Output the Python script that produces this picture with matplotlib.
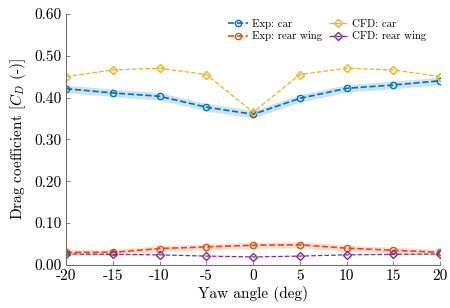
import numpy as np
import matplotlib.pyplot as plt

plt.rcParams['font.family'] = 'cmr10'
plt.rcParams['mathtext.fontset'] = 'cm'
plt.rcParams['axes.formatter.use_mathtext'] = True

yaw = [-20, -15, -10, -5, 0, 5, 10, 15, 20]
exp_car = [0.421, 0.411, 0.403, 0.377, 0.360, 0.398, 0.422, 0.430, 0.440]
cfd_car = [0.450, 0.466, 0.470, 0.455, 0.365, 0.455, 0.470, 0.466, 0.450]
exp_wing = [0.030, 0.030, 0.039, 0.043, 0.047, 0.048, 0.040, 0.035, 0.030]
cfd_wing = [0.026, 0.025, 0.024, 0.021, 0.019, 0.021, 0.024, 0.025, 0.026]
car_err = 0.009
wing_err = 0.007

blue = '#0072BD'
orange = '#D95319'
yellow = '#EDB120'
purple = '#7E2F8E'

fig = plt.figure(figsize=(4.5, 3.08), dpi=100)
ax = fig.add_axes([0.147, 0.14, 0.831, 0.815])

x = np.array(yaw)
ax.fill_between(x, np.array(exp_car) - car_err, np.array(exp_car) + car_err,
                color=blue, alpha=0.2, lw=0)
ax.fill_between(x, np.array(exp_wing) - wing_err, np.array(exp_wing) + wing_err,
                color=orange, alpha=0.2, lw=0)

ax.plot(x, exp_car, '--o', color=blue, mfc='none', ms=4.5, lw=1.2, label='Exp: car')
ax.plot(x, exp_wing, '--o', color=orange, mfc='none', ms=4.5, lw=1.2, label='Exp: rear wing')
ax.plot(x, cfd_car, '--D', color=yellow, mfc='none', ms=4, lw=0.9, label='CFD: car')
ax.plot(x, cfd_wing, '--D', color=purple, mfc='none', ms=4, lw=0.9, label='CFD: rear wing')

ax.set_xlim(-20, 20)
ax.set_ylim(0, 0.6)
ax.set_xticks(yaw)
ax.set_xticklabels([str(v) for v in yaw])
yt = np.arange(0, 0.61, 0.1)
ax.set_yticks(yt)
ax.set_yticklabels(['%.2f' % v for v in yt])
ax.tick_params(direction='in', length=3, color='#707070', labelsize=11, width=0.6)
for s in ['top', 'right']:
    ax.spines[s].set_visible(False)
for s in ['left', 'bottom']:
    ax.spines[s].set_color('#707070')
    ax.spines[s].set_linewidth(0.8)

ax.set_xlabel('Yaw angle (deg)', fontsize=11, labelpad=2)
ax.set_ylabel(r'Drag coefficient [$C_D$ (-)]', fontsize=11)

ax.legend(ncol=2, loc='upper right', frameon=False, fontsize=7.8,
          handlelength=1.8, columnspacing=0.6, handletextpad=0.4,
          bbox_to_anchor=(0.99, 1.02), labelspacing=0.25)

fig.savefig('out.png', dpi=100)
